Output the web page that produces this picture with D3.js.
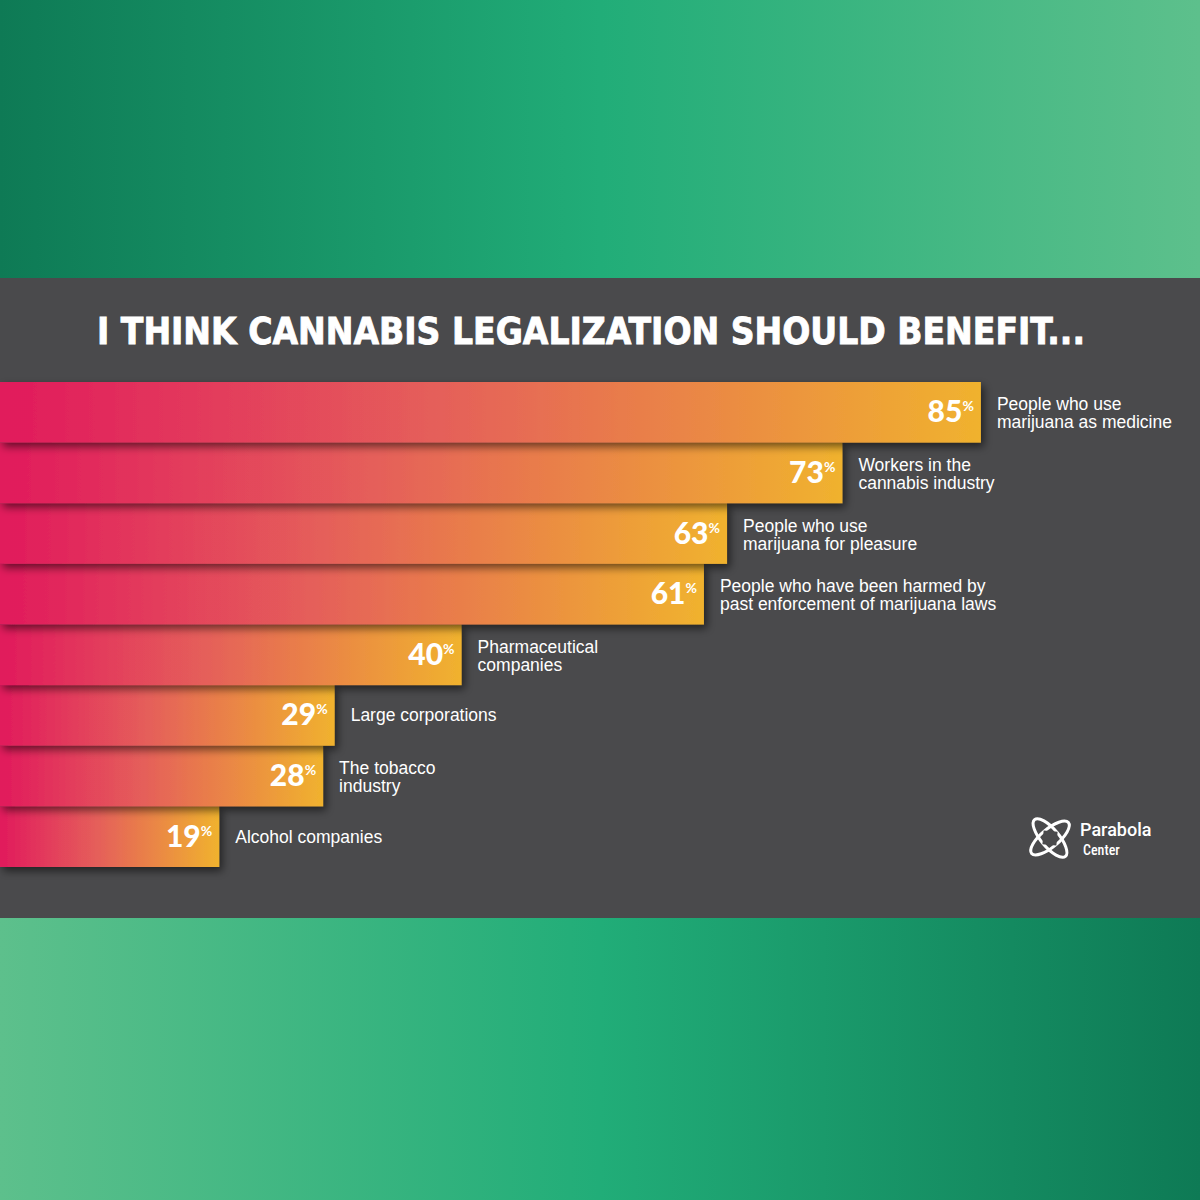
<!DOCTYPE html>
<html>
<head>
<meta charset="utf-8">
<title>Cannabis legalization should benefit</title>
<script src="https://cdn.jsdelivr.net/npm/d3@7"></script>
<style>
  body { margin: 0; background: #fff; }
  svg { display: block; }
</style>
</head>
<body>
<script>
// data
const categories = [
  ['People who use', 'marijuana as medicine'],
  ['Workers in the', 'cannabis industry'],
  ['People who use', 'marijuana for pleasure'],
  ['People who have been harmed by', 'past enforcement of marijuana laws'],
  ['Pharmaceutical', 'companies'],
  ['Large corporations'],
  ['The tobacco', 'industry'],
  ['Alcohol companies']
];
const values = [85, 73, 63, 61, 40, 29, 28, 19];
const title = 'I THINK CANNABIS LEGALIZATION SHOULD BENEFIT...';

const W = 1200, H = 1200;
const panelTop = 278, panelBottom = 918;

const svg = d3.select('body').append('svg')
  .attr('width', W).attr('height', H);

const defs = svg.append('defs');

// green bands
const gTop = defs.append('linearGradient').attr('id', 'gTop');
gTop.append('stop').attr('offset', '0%').attr('stop-color', '#0e7a55');
gTop.append('stop').attr('offset', '50%').attr('stop-color', '#21ad78');
gTop.append('stop').attr('offset', '100%').attr('stop-color', '#5dc08c');
const gBot = defs.append('linearGradient').attr('id', 'gBot');
gBot.append('stop').attr('offset', '0%').attr('stop-color', '#5dc08c');
gBot.append('stop').attr('offset', '50%').attr('stop-color', '#21ad78');
gBot.append('stop').attr('offset', '100%').attr('stop-color', '#0e7a55');

// bar gradient (per bar)
const gBar = defs.append('linearGradient').attr('id', 'gBar');
gBar.append('stop').attr('offset', '0%').attr('stop-color', '#e11a5c');
gBar.append('stop').attr('offset', '45%').attr('stop-color', '#e5605a');
gBar.append('stop').attr('offset', '100%').attr('stop-color', '#f0b22e');

const shadow = defs.append('filter').attr('id', 'shadow')
  .attr('x', '-5%').attr('y', '-20%').attr('width', '115%').attr('height', '150%');
shadow.append('feDropShadow')
  .attr('dx', 3).attr('dy', 4).attr('stdDeviation', 4)
  .attr('flood-color', '#000').attr('flood-opacity', 0.55);

svg.append('rect').attr('x', 0).attr('y', 0).attr('width', W).attr('height', panelTop)
  .attr('fill', 'url(#gTop)');
svg.append('rect').attr('x', 0).attr('y', panelBottom).attr('width', W).attr('height', H - panelBottom)
  .attr('fill', 'url(#gBot)');
svg.append('rect').attr('x', 0).attr('y', panelTop).attr('width', W).attr('height', panelBottom - panelTop)
  .attr('fill', '#4a4a4c');

// title
svg.append('text')
  .attr('x', 591).attr('y', 344)
  .attr('text-anchor', 'middle')
  .attr('textLength', 988).attr('lengthAdjust', 'spacingAndGlyphs')
  .style('font-family', '"DejaVu Sans Condensed", "DejaVu Sans", sans-serif')
  .style('font-weight', 'bold')
  .style('font-size', '37px')
  .style('fill', '#fff')
  .style('stroke', '#fff').style('stroke-width', 0.8)
  .text(title);

// scales
const x = d3.scaleLinear().domain([0, 100]).range([0, 1154]);
const y = d3.scaleBand().domain(d3.range(values.length)).range([382, 867]).padding(0);

// bars, bottom first so upper bar shadows fall on the lower ones
const order = d3.range(values.length).reverse();
const bars = svg.append('g');
order.forEach(function(i) {
  bars.append('rect')
    .attr('x', 0)
    .attr('y', y(i))
    .attr('width', x(values[i]))
    .attr('height', y.bandwidth())
    .attr('fill', 'url(#gBar)')
    .attr('filter', 'url(#shadow)');
});

// value labels
const valG = svg.append('g');
values.forEach(function(v, i) {
  const cy = y(i) + y.bandwidth() / 2;
  const t = valG.append('text')
    .attr('x', x(v) - 7)
    .attr('y', cy + 10)
    .attr('text-anchor', 'end')
    .style('font-family', 'Lato, Roboto, "Liberation Sans", sans-serif')
    .style('font-weight', 900)
    .style('font-size', '30px')
    .style('fill', '#fff');
  t.append('tspan').text(v);
  t.append('tspan')
    .attr('dy', -11)
    .style('font-size', '14px')
    .style('font-weight', 700)
    .text('%');
});

// category labels
const labG = svg.append('g');
categories.forEach(function(lines, i) {
  const cy = y(i) + y.bandwidth() / 2;
  const t = labG.append('text')
    .attr('x', x(values[i]) + 16)
    .style('font-family', '"Liberation Sans", Arial, sans-serif')
    .style('font-size', '17.5px')
    .style('fill', '#fff');
  if (lines.length === 1) {
    t.attr('y', cy + 6).text(lines[0]);
  } else {
    t.attr('y', cy - 2);
    lines.forEach(function(l, k) {
      t.append('tspan').attr('x', x(values[i]) + 16).attr('dy', k === 0 ? 0 : 18).text(l);
    });
  }
});

// logo
const logo = svg.append('g').attr('transform', 'translate(1050,838)');
logo.append('ellipse').attr('rx', 24).attr('ry', 9).attr('transform', 'rotate(-40)')
  .attr('fill', 'none').attr('stroke', '#fff').attr('stroke-width', 3);
logo.append('ellipse').attr('rx', 24).attr('ry', 9).attr('transform', 'rotate(50)')
  .attr('fill', 'none').attr('stroke', '#fff').attr('stroke-width', 3);
logo.append('rect').attr('x', -7).attr('y', -7).attr('width', 14).attr('height', 14)
  .attr('transform', 'rotate(5)').attr('fill', '#4a4a4c');
svg.append('text').attr('x', 1080).attr('y', 836)
  .style('font-family', 'Roboto, "Liberation Sans", sans-serif')
  .style('font-size', '18px').style('font-weight', 500).style('fill', '#fff')
  .text('Parabola');
svg.append('text').attr('x', 1083).attr('y', 855)
  .style('font-family', '"Roboto Condensed", Roboto, "Liberation Sans", sans-serif')
  .style('font-size', '14px').style('font-weight', 500).style('fill', '#fff')
  .text('Center');
</script>
</body>
</html>
